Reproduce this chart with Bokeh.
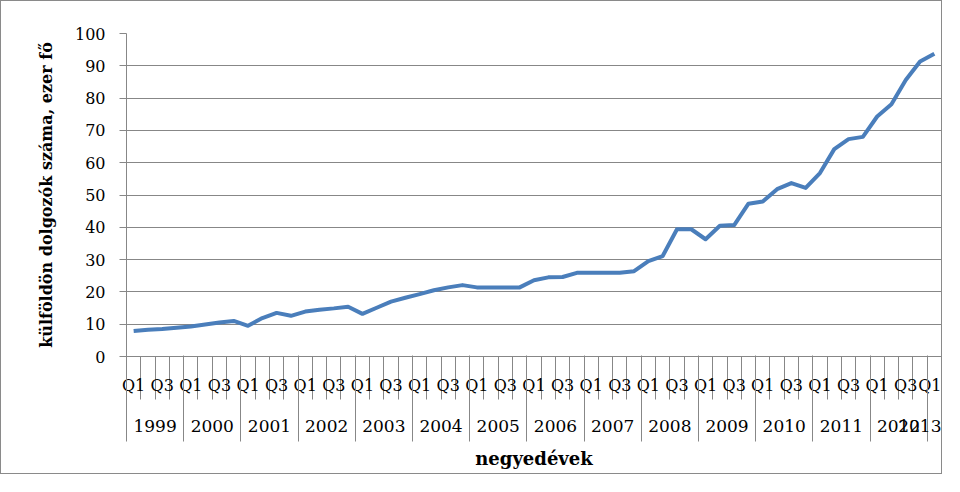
from bokeh.plotting import figure
from bokeh.models import Range1d, FixedTicker, LinearAxis, ColumnDataSource
from bokeh.embed import file_html
from bokeh.resources import INLINE

# ---- data ----
years = ["1999", "2000", "2001", "2002", "2003", "2004", "2005",
         "2006", "2007", "2008", "2009", "2010", "2011", "2012", "2013"]
quarters = ["Q1", "Q2", "Q3", "Q4"]
shown_quarters = ["Q1", "Q3"]
values = [
    7.9, 8.3, 8.5, 8.9,      # 1999
    9.3, 9.9, 10.5, 11.0,    # 2000
    9.5, 11.9, 13.5, 12.6,   # 2001
    13.9, 14.5, 14.9, 15.4,  # 2002
    13.2, 15.1, 17.0, 18.2,  # 2003
    19.3, 20.5, 21.4, 22.1,  # 2004
    21.4, 21.4, 21.4, 21.4,  # 2005
    23.6, 24.5, 24.6, 25.9,  # 2006
    25.9, 25.9, 25.9, 26.4,  # 2007
    29.5, 31.1, 39.4, 39.4,  # 2008
    36.3, 40.5, 40.7, 47.3,  # 2009
    48.0, 51.8, 53.7, 52.2,  # 2010
    56.8, 64.2, 67.3, 68.0,  # 2011
    74.3, 78.1, 85.6, 91.3,  # 2012
    93.7,                    # 2013
]
y_ticks = [0, 10, 20, 30, 40, 50, 60, 70, 80, 90, 100]
y_title = "külföldön dolgozók száma, ezer fő"
x_title = "negyedévek"

# ---- derived positions ----
n = len(values)
xs = list(range(n))
q_of = [quarters[i % 4] for i in xs]
yr_of = [years[i // 4] for i in xs]

GRAY = "#878787"
FONT = "DejaVu Serif"

p = figure(width=942, height=474, output_backend="svg", toolbar_location=None,
           x_range=Range1d(-0.5, n - 0.5), y_range=Range1d(0, 100),
           x_axis_location=None,
           min_border_left=125, min_border_top=32, min_border_right=2,
           min_border_bottom=119)
p.styles = {"border": "1px solid #8a8a8a"}
p.outline_line_color = None
p.background_fill_color = "white"
p.border_fill_color = "white"

# y axis
p.yaxis.ticker = FixedTicker(ticks=y_ticks)
p.yaxis.axis_line_color = GRAY
p.yaxis.major_tick_line_color = GRAY
p.yaxis.major_tick_out = 7
p.yaxis.major_tick_in = 0
p.yaxis.minor_tick_line_color = None
p.yaxis.major_label_standoff = 14
p.yaxis.major_label_text_font = FONT
p.yaxis.major_label_text_font_size = "16px"
p.yaxis.major_label_text_color = "black"
p.yaxis.axis_label = y_title
p.yaxis.axis_label_text_font = FONT
p.yaxis.axis_label_text_font_style = "bold"
p.yaxis.axis_label_text_font_size = "16px"
p.yaxis.axis_label_text_color = "black"
p.yaxis.axis_label_standoff = 16

p.xgrid.visible = False
p.ygrid.ticker = FixedTicker(ticks=y_ticks)
p.ygrid.grid_line_color = GRAY
p.ygrid.grid_line_width = 1

# quarter axis
q_ticks = [i for i in xs if q_of[i] in shown_quarters]
q_bounds = [i - 0.5 for i in xs] + [n - 0.5]
qa = LinearAxis(ticker=FixedTicker(ticks=q_ticks, minor_ticks=q_bounds),
                major_label_overrides={i: q_of[i] for i in q_ticks},
                major_tick_out=0, major_tick_in=0, major_tick_line_color=None,
                minor_tick_out=43, minor_tick_in=0, minor_tick_line_color=GRAY,
                axis_line_color=GRAY, major_label_standoff=-24,
                major_label_text_font=FONT, major_label_text_font_size="16px",
                major_label_text_color="black")
p.add_layout(qa, "below")

# year axis
year_centers = []
year_bounds = []
for y in years:
    idx = [i for i in xs if yr_of[i] == y]
    year_centers.append(sum(idx) / len(idx))
    year_bounds.append(idx[0] - 0.5)
year_bounds.append(n - 0.5)
ya = LinearAxis(ticker=FixedTicker(ticks=year_centers, minor_ticks=year_bounds),
                major_label_overrides={c: y for c, y in zip(year_centers, years)},
                major_tick_out=0, major_tick_in=0, major_tick_line_color=None,
                minor_tick_in=42, minor_tick_out=44, minor_tick_line_color=GRAY,
                axis_line_color=None, major_label_standoff=-22,
                major_label_text_font=FONT, major_label_text_font_size="17px",
                major_label_text_color="black",
                axis_label=x_title, axis_label_text_font=FONT,
                axis_label_text_font_style="bold", axis_label_text_font_size="18px",
                axis_label_text_color="black", axis_label_standoff=13)
p.add_layout(ya, "below")

src = ColumnDataSource(dict(x=xs, y=values, q=q_of, yr=yr_of))
p.line("x", "y", source=src, line_color="#4A7EBB", line_width=4, line_join="round")

open("out.html", "w").write(file_html(p, INLINE))
